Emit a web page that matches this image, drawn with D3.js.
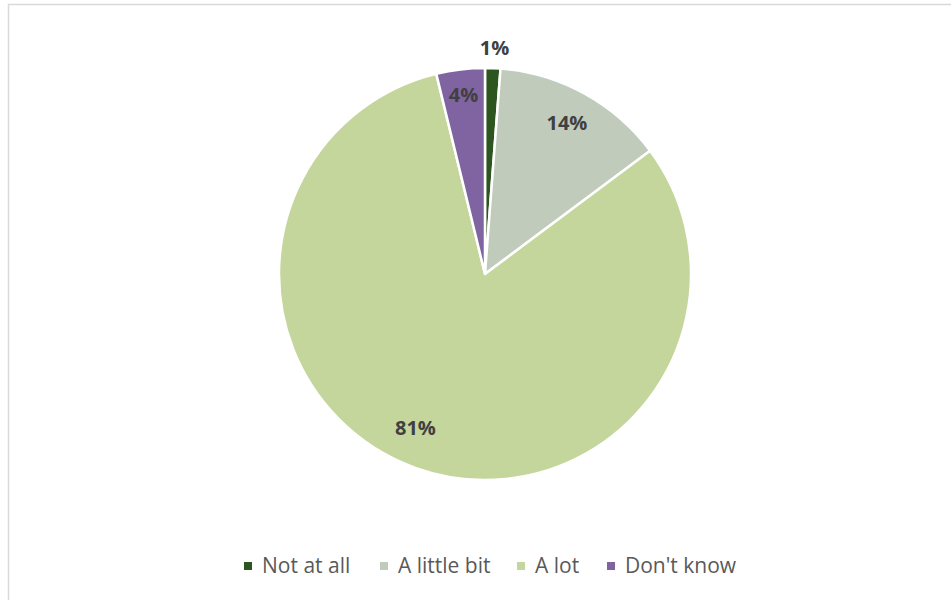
<!DOCTYPE html>
<html>
<head>
<meta charset="utf-8">
<script src="https://cdn.jsdelivr.net/npm/d3@7"></script>
<style>
  body { margin: 0; background: #fff; }
  svg { display: block; font-family: "Open Sans", sans-serif; }
</style>
</head>
<body>
<div id="chart"></div>
<script>
// answer categories and their shares (%)
const categories = ["Not at all", "A little bit", "A lot", "Don't know"];
const values = [1.2, 13.6, 81.4, 3.8];
const labels = ["1%", "14%", "81%", "4%"];
const colors = ["#2c5520", "#c0cbbc", "#c4d69b", "#8064a2"];

const width = 951,
  height = 600;

const svg = d3.select("#chart").append("svg").attr("width", width).attr("height", height);

// chart frame
svg.append("rect")
  .attr("x", 8.5).attr("y", 4.5)
  .attr("width", 960).attr("height", 620)
  .attr("fill", "none")
  .attr("stroke", "#d9d9d9")
  .attr("stroke-width", 1.5);

const cx = 485, cy = 274, radius = 206;

const pie = d3.pie().sort(null).value(d => d.value);
const arcs = pie(categories.map((c, i) => ({ name: c, value: values[i], label: labels[i], color: colors[i] })));

const arc = d3.arc().innerRadius(0).outerRadius(radius);

const g = svg.append("g").attr("transform", `translate(${cx},${cy})`);

g.selectAll("path")
  .data(arcs)
  .join("path")
  .attr("d", arc)
  .attr("fill", d => d.data.color)
  .attr("stroke", "#fff")
  .attr("stroke-width", 2.5)
  .attr("stroke-linejoin", "round");

// label radius per slice: tiny slice gets its label outside
const labelR = [227, 170, 170, 180];
const labelNudge = [[1, 1], [0, -2], [-12, -6], [0, 0]];
g.selectAll("text")
  .data(arcs)
  .join("text")
  .attr("transform", (d, i) => {
    const a = (d.startAngle + d.endAngle) / 2;
    const x = Math.sin(a) * labelR[i] + labelNudge[i][0];
    const y = -Math.cos(a) * labelR[i] + labelNudge[i][1];
    return `translate(${x},${y})`;
  })
  .attr("text-anchor", "middle")
  .attr("dy", "0.35em")
  .attr("font-size", 20)
  .attr("font-weight", "bold")
  .attr("fill", "#404040")
  .text(d => d.data.label);

// legend
const legendX = [244, 380, 517, 607];
const legend = svg.append("g").attr("transform", "translate(0,566)");
const items = legend.selectAll("g")
  .data(categories)
  .join("g")
  .attr("transform", (d, i) => `translate(${legendX[i]},0)`);

items.append("rect")
  .attr("x", 0).attr("y", -4)
  .attr("width", 8).attr("height", 8)
  .attr("fill", (d, i) => colors[i]);

items.append("text")
  .attr("x", 18)
  .attr("dy", "0.35em")
  .attr("font-size", 21)
  .attr("fill", "#595959")
  .text(d => d);
</script>
</body>
</html>
